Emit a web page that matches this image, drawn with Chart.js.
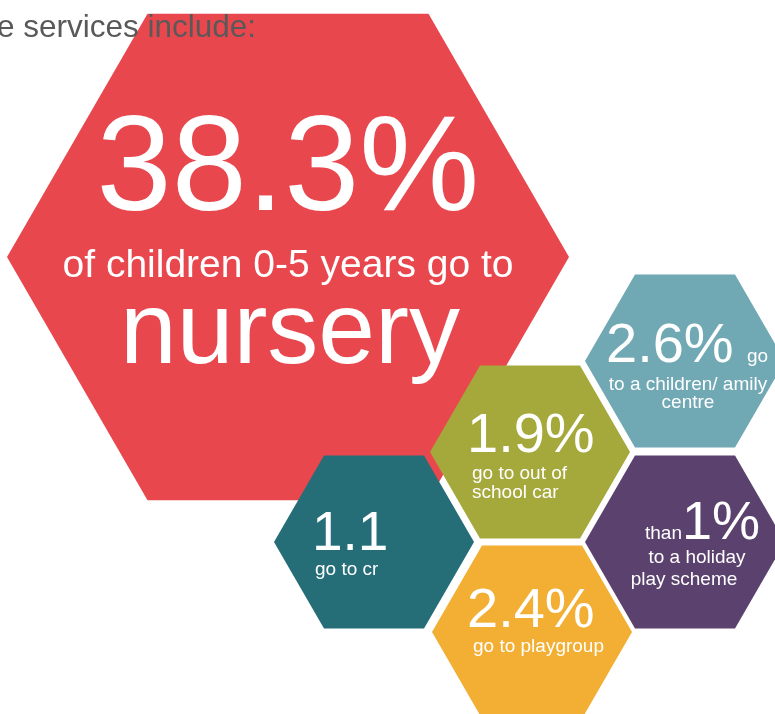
<!DOCTYPE html>
<html><head><meta charset="utf-8">
<script src="https://cdn.jsdelivr.net/npm/chart.js@4.4.1/dist/chart.umd.min.js"></script>
<style>html,body{margin:0;padding:0;background:#fff;overflow:hidden}canvas{display:block}</style>
</head><body>
<canvas id="c" width="775" height="714"></canvas>
<script>
// ---- data ----
const categories = ['nursery', 'children/ family centre', 'out of school care', 'crèche', 'holiday play scheme', 'playgroup'];
const percentValues = [38.3, 2.6, 1.9, 1.1, 1, 2.4];
const valueLabels = ['38.3%', '2.6%', '1.9%', '1.1', '1%', '2.4%'];
const captionLines = [
  ['of children 0-5 years go to', 'nursery'],
  ['go', 'to a children/ amily', 'centre'],
  ['go to out of', 'school car'],
  ['go to cr'],
  ['than', 'to a holiday', 'play scheme'],
  ['go to playgroup']
];
const headerText = 'e services include:';

// ---- layout (positions / sizes / styles) ----
const hexCenters = [[288, 257], [685, 361], [530, 452], [374, 542], [685, 542], [532, 632]];
const hexRadii = [281, 100, 100, 100, 100, 100];
const hexColors = ['#E8474E', '#70A8B4', '#A5A83A', '#256E78', '#5B416E', '#F2AF33'];
const FONT = '"Liberation Sans", Arial, Helvetica, sans-serif';

function hexPath(i) {
  const [cx, cy] = hexCenters[i], r = hexRadii[i];
  const pts = [];
  for (let k = 0; k <= 6; k++) {
    const a = Math.PI / 3 * k;
    pts.push({x: cx + r * Math.cos(a), y: cy + r * Math.sin(a)});
  }
  return pts;
}

const datasets = categories.map((c, i) => ({
  label: c,
  data: hexPath(i),
  showLine: true,
  fill: 'shape',
  backgroundColor: hexColors[i],
  borderColor: hexColors[i],
  borderWidth: 0,
  pointRadius: 0,
  tension: 0,
  order: i === 0 ? 10 : 1
}));

// text placement: [text, x, y, size, align, color]
const textItems = [
  [valueLabels[0], 288, 210, 135, 'center'],
  [captionLines[0][0], 288, 277, 39, 'center'],
  [captionLines[0][1], 290, 363, 102, 'center'],
  [valueLabels[1], 606, 362, 56, 'left'],
  [captionLines[1][0], 747, 362, 19, 'left'],
  [captionLines[1][1], 688, 390, 19, 'center'],
  [captionLines[1][2], 688, 408, 19, 'center'],
  [valueLabels[2], 467, 452, 56, 'left'],
  [captionLines[2][0], 472, 479, 19, 'left'],
  [captionLines[2][1], 472, 498, 19, 'left'],
  [valueLabels[3], 312, 550, 55, 'left'],
  [captionLines[3][0], 315, 575, 19, 'left'],
  [captionLines[4][0], 645, 539, 19, 'left'],
  [valueLabels[4], 682, 539, 54, 'left'],
  [captionLines[4][1], 697, 563, 19, 'center'],
  [captionLines[4][2], 684, 585, 19, 'center'],
  [valueLabels[5], 467, 627, 56, 'left'],
  [captionLines[5][0], 473, 652, 19, 'left'],
  [headerText, 256, 37, 31.5, 'right', '#595959']
];

const textPlugin = {
  id: 'hexText',
  afterDatasetsDraw(chart) {
    const ctx = chart.ctx, xs = chart.scales.x, ys = chart.scales.y;
    ctx.save();
    ctx.textBaseline = 'alphabetic';
    for (const [t, x, y, size, align, color] of textItems) {
      ctx.font = size + 'px ' + FONT;
      ctx.textAlign = align;
      ctx.fillStyle = color || '#FFFFFF';
      ctx.fillText(t, xs.getPixelForValue(x), ys.getPixelForValue(y));
    }
    ctx.restore();
  }
};

new Chart(document.getElementById('c'), {
  type: 'scatter',
  data: {datasets},
  options: {
    responsive: false,
    animation: false,
    events: [],
    layout: {padding: 0},
    plugins: {legend: {display: false}, tooltip: {enabled: false}, title: {display: false}},
    scales: {
      x: {type: 'linear', min: 0, max: 775, display: false},
      y: {type: 'linear', min: 0, max: 714, reverse: true, display: false}
    }
  },
  plugins: [textPlugin]
});
</script>
</body></html>
